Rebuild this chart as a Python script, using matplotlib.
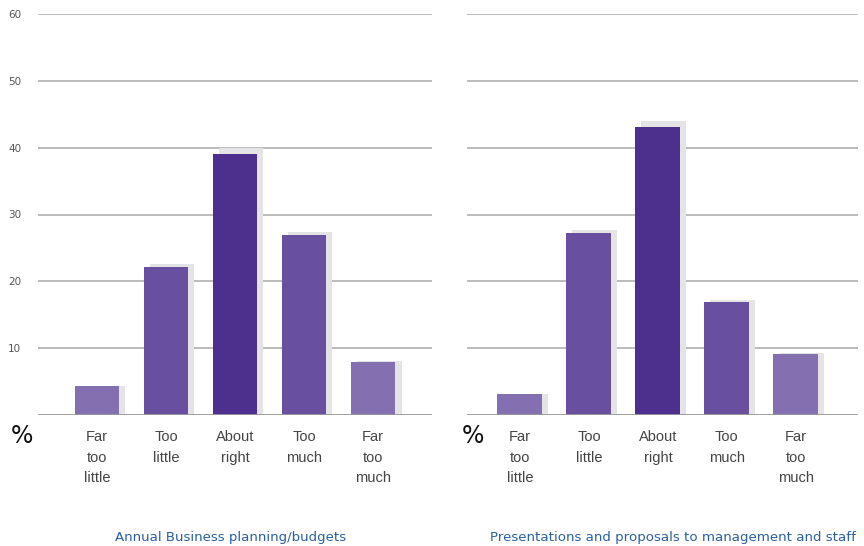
import matplotlib.pyplot as plt
from matplotlib.patches import Rectangle

categories = ["Far\ntoo\nlittle", "Too\nlittle", "About\nright", "Too\nmuch", "Far\ntoo\nmuch"]
planning_values = [4.3, 22.2, 39.1, 26.9, 7.9]
presentation_values = [3.1, 27.2, 43.1, 16.9, 9.1]
panel_titles = ["Annual Business planning/budgets",
                "Presentations and proposals to management and staff"]
y_ticks = [10, 20, 30, 40, 50, 60]

bar_colors = ["#846fb0", "#684f9f", "#4d2f8e", "#684f9f", "#846fb0"]
shadow_color = "#e4e4e6"
grid_color = "#aaaaaa"

fig = plt.figure(figsize=(8.64, 5.46), dpi=100)

# axes boxes in figure pixels: (left, right), plus x positions of "%" and title
panels = [
    (38, 432, planning_values, (-0.855, 4.855), True, 22, 231),
    (467, 858, presentation_values, (-0.768, 4.9), False, 473, 673),
]
bottom_px, top_px = 415, 14
W, H = 864, 546

for i, (lpx, rpx, values, xlim, show_ticks, pct_x, title_x) in enumerate(panels):
    ax = fig.add_axes([lpx / W, (H - bottom_px) / H, (rpx - lpx) / W, (bottom_px - top_px) / H])
    ax.set_xlim(*xlim)
    ax.set_ylim(0, 60)
    for s in ax.spines.values():
        s.set_visible(False)
    ax.set_xticks([])
    for t in y_ticks:
        ax.axhline(t, color=grid_color, lw=1.1, zorder=0)
    ax.axhline(0, color="#999999", lw=1.3, zorder=3)

    width = 0.652
    dx = 0.087
    for x, v in enumerate(values):
        # light drop shadow behind each bar
        ax.add_patch(Rectangle((x - width / 2 + dx, 0), width, v * 1.02,
                               facecolor=shadow_color, edgecolor="none", zorder=1))
    ax.bar(range(len(values)), values, width=width, color=bar_colors, zorder=2)

    if show_ticks:
        ax.set_yticks(y_ticks)
        ax.tick_params(axis="y", length=0, pad=12, labelsize=7.5, labelcolor="#555555")
    else:
        ax.set_yticks([])

    for x, cat in enumerate(categories):
        ax.text(x, -2.2, cat, ha="center", va="top", fontsize=10.5, color="#444444",
                family="Liberation Sans", linespacing=1.62)

    fig.text(pct_x / W, 1 - 436 / H, "%", ha="center", va="center",
             fontsize=17, color="#111111")
    fig.text(title_x / W, 1 - 538 / H, panel_titles[i], ha="center", va="center",
             fontsize=9.6, color="#2a5fa3")

fig.savefig("out.png", dpi=100)
